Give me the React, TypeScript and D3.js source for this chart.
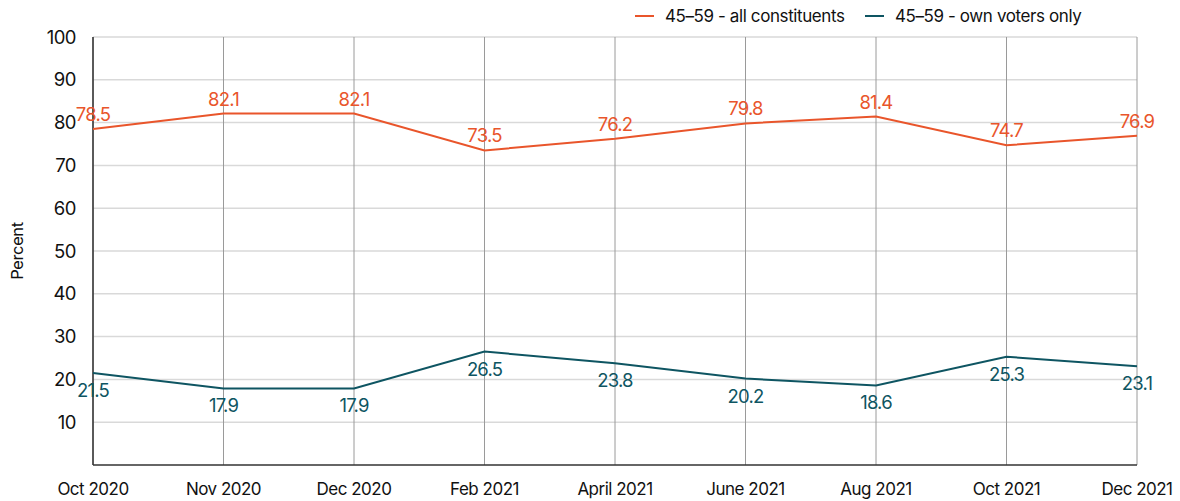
import React from "react";
import * as d3 from "d3";

const categories = ["Oct 2020", "Nov 2020", "Dec 2020", "Feb 2021", "April 2021", "June 2021", "Aug 2021", "Oct 2021", "Dec 2021"];
const allConstituents = [78.5, 82.1, 82.1, 73.5, 76.2, 79.8, 81.4, 74.7, 76.9];
const ownVoters = [21.5, 17.9, 17.9, 26.5, 23.8, 20.2, 18.6, 25.3, 23.1];
const yTicks = [10, 20, 30, 40, 50, 60, 70, 80, 90, 100];
const seriesNames = ["45–59 - all constituents", "45–59 - own voters only"];

const W = 1180, H = 501;
const M = { left: 93, right: 1137, top: 37, bottom: 465 };
const ORANGE = "#E9552B";
const TEAL = "#0E5562";
const FONT = "Inter, 'Noto Sans', sans-serif";

export default function App() {
  const x = d3.scalePoint<string>().domain(categories).range([M.left, M.right]);
  const y = d3.scaleLinear().domain([0, 100]).range([M.bottom, M.top]);
  const line = d3.line<number>().x((_, i) => x(categories[i])!).y((d) => y(d));

  return (
    <svg width={W} height={H} style={{ position: "absolute", left: 0, top: 0, fontFamily: FONT }}>
      {yTicks.map((t) => (
        <line key={"h" + t} x1={M.left} x2={M.right} y1={y(t)} y2={y(t)} stroke="#d9d9d9" strokeWidth={1.5} />
      ))}
      {categories.map((c) => (
        <line key={"v" + c} x1={x(c)} x2={x(c)} y1={M.top} y2={M.bottom} stroke="#9a9a9a" strokeWidth={1} />
      ))}
      <line x1={M.left} x2={M.left} y1={M.top} y2={M.bottom} stroke="#333" strokeWidth={1.5} />
      <line x1={M.left} x2={M.right} y1={M.bottom} y2={M.bottom} stroke="#333" strokeWidth={1.5} />
      {yTicks.map((t) => (
        <text key={"yt" + t} x={76} y={y(t) + 6.5} textAnchor="end" fontSize={18.5} fill="#111" letterSpacing={-0.5}>
          {t}
        </text>
      ))}
      {categories.map((c) => (
        <text key={"xt" + c} x={x(c)} y={495} textAnchor="middle" fontSize={17} fill="#111" letterSpacing={-0.5}>
          {c}
        </text>
      ))}
      <text transform={`translate(23,${(M.top + M.bottom) / 2}) rotate(-90)`} textAnchor="middle" fontSize={16.5} fill="#111" letterSpacing={-0.4}>
        Percent
      </text>
      <path d={line(allConstituents)!} fill="none" stroke={ORANGE} strokeWidth={2} />
      <path d={line(ownVoters)!} fill="none" stroke={TEAL} strokeWidth={2} />
      {allConstituents.map((v, i) => (
        <text key={"la" + i} x={x(categories[i])} y={y(v) - 8} textAnchor="middle" fontSize={18.5} fill={ORANGE} letterSpacing={-0.8}>
          {v}
        </text>
      ))}
      {ownVoters.map((v, i) => (
        <text key={"lo" + i} x={x(categories[i])} y={y(v) + 24} textAnchor="middle" fontSize={18.5} fill={TEAL} letterSpacing={-0.8}>
          {v}
        </text>
      ))}
      <g>
        <line x1={635} x2={654} y1={16} y2={16} stroke={ORANGE} strokeWidth={2} />
        <text x={665} y={22} fontSize={17} fill="#111" letterSpacing={-0.4}>{seriesNames[0]}</text>
        <line x1={865} x2={884} y1={16} y2={16} stroke={TEAL} strokeWidth={2} />
        <text x={895} y={22} fontSize={17} fill="#111" letterSpacing={-0.4}>{seriesNames[1]}</text>
      </g>
    </svg>
  );
}
